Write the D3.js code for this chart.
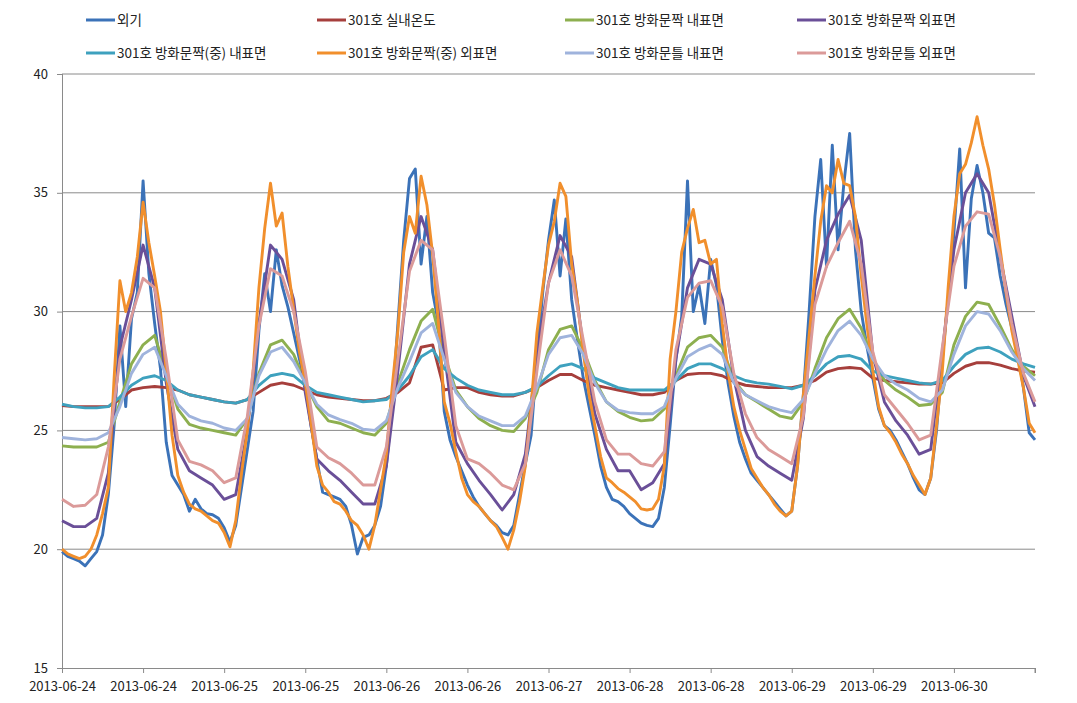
<!DOCTYPE html>
<html>
<head>
<meta charset="utf-8">
<script src="https://cdn.jsdelivr.net/npm/d3@7"></script>
<style>
    body { margin: 0; background: #fff; }
    text { font-family: "Noto Sans CJK KR", "Noto Sans", sans-serif; fill: #222; }
</style>
</head>
<body>
<div id="vis1"></div>
<script>
// series names (legend order = draw order)
var seriesNames = ["외기", "301호 실내온도", "301호 방화문짝 내표면", "301호 방화문짝 외표면",
    "301호 방화문짝(중) 내표면", "301호 방화문짝(중) 외표면", "301호 방화문틀 내표면", "301호 방화문틀 외표면"];

// x axis tick labels, one every 14 hours from 2013-06-24 00:00
var tickLabels = ["2013-06-24", "2013-06-24", "2013-06-25", "2013-06-25", "2013-06-26", "2013-06-26",
    "2013-06-27", "2013-06-28", "2013-06-28", "2013-06-29", "2013-06-29", "2013-06-30"];
var yTicks = [15, 20, 25, 30, 35, 40];

// hourly readings (hour 0..168)
var outdoor = [
    19.9, 19.7, 19.6, 19.5, 19.3, 19.6, 19.9, 20.6, 22.3, 25.2, 29.4, 26.0, 29.7, 30.8, 35.5, 31.6, 29.5, 27.6, 24.5, 23.1, 22.7, 22.3, 21.6, 22.1,
    21.7, 21.5, 21.45, 21.3, 20.9, 20.3, 21.0, 22.6, 24.2, 25.8, 29.2, 31.6, 30.0, 32.6, 31.1, 30.2, 29.1, 28.0, 26.9, 25.2, 23.8, 22.4, 22.3, 22.2,
    22.1, 21.8, 21.0, 19.8, 20.5, 20.6, 21.0, 21.8, 23.5, 26.0, 29.5, 33.0, 35.6, 36.0, 32.0, 34.0, 30.8, 29.5, 25.8, 24.6, 23.9, 23.3, 22.7, 22.2,
    21.8, 21.5, 21.2, 21.0, 20.7, 20.6, 21.0, 22.3, 23.6, 24.8, 28.0, 30.8, 33.0, 34.7, 31.5, 33.9, 30.5, 28.8, 27.2, 26.0, 24.8, 23.5, 22.6, 22.1,
    22.0, 21.8, 21.5, 21.3, 21.1, 21.0, 20.95, 21.3, 22.6, 25.2, 28.0, 29.8, 35.5, 30.0, 31.1, 29.5, 32.2, 31.1, 28.8, 27.0, 25.6, 24.5, 23.8, 23.2,
    22.9, 22.6, 22.3, 22.0, 21.7, 21.4, 21.6, 23.5, 26.5, 30.0, 34.0, 36.4, 31.9, 37.0, 32.6, 35.4, 37.5, 32.6, 30.0, 28.5, 27.2, 25.9, 25.2, 25.0,
    24.6, 24.1, 23.6, 23.0, 22.5, 22.3, 23.0, 25.0, 28.0, 30.5, 33.3, 36.85, 31.0, 34.75, 36.15, 35.0, 33.3, 33.1, 31.5, 30.3, 29.3, 28.3, 26.8, 24.9, 24.6
];
var doorMidOut = [
    20.0, 19.8, 19.7, 19.6, 19.7, 20.0, 20.6, 21.5, 22.6, 27.2, 31.3, 30.0, 30.8, 32.3, 34.6, 32.9, 31.5, 30.0, 27.5, 24.8, 23.1, 22.4, 21.9, 21.7,
    21.6, 21.4, 21.2, 21.1, 20.7, 20.1, 21.2, 23.2, 25.0, 27.5, 31.0, 33.5, 35.4, 33.6, 34.15, 31.9, 30.1, 28.3, 27.0, 25.3, 23.5, 22.7, 22.4, 22.0,
    21.9, 21.6, 21.2, 21.0, 20.6, 20.0, 21.0, 22.5, 24.0, 26.8, 29.2, 32.5, 34.0, 33.3, 35.7, 34.5, 32.4, 29.5, 26.2, 25.3, 24.1, 23.0, 22.3, 22.0,
    21.8, 21.5, 21.2, 20.95, 20.5, 20.0, 20.8, 22.0, 23.5, 26.0, 29.1, 31.0, 32.8, 33.8, 35.4, 34.85, 32.0, 30.4, 28.3, 26.5, 25.2, 23.9, 23.0, 22.8,
    22.55, 22.4, 22.2, 22.0, 21.7, 21.65, 21.7, 22.1, 23.5, 28.0, 30.0, 32.5, 33.5, 34.3, 32.9, 33.0, 32.0, 32.2, 29.5, 27.5, 26.0, 25.0, 24.2, 23.4,
    23.0, 22.6, 22.3, 21.9, 21.6, 21.4, 21.6, 23.5, 26.5, 29.0, 31.5, 33.8, 35.3, 35.0, 36.4, 35.4, 35.3, 34.0, 31.5, 29.4, 27.5, 26.0, 25.2, 24.9,
    24.5, 24.0, 23.6, 23.1, 22.7, 22.3, 23.0, 25.2, 27.5, 31.0, 34.0, 35.8, 36.2, 37.1, 38.2, 37.0, 36.0, 34.5, 32.6, 30.8, 29.2, 28.0, 26.8, 25.3, 24.9
];

// two-hourly readings (hour 0,2,..,168)
var indoor = [
    26.05, 26.0, 26.0, 26.0, 26.0, 26.3, 26.7, 26.8, 26.85, 26.8, 26.7, 26.5,
    26.4, 26.3, 26.2, 26.15, 26.3, 26.6, 26.9, 27.0, 26.9, 26.7, 26.5, 26.4,
    26.35, 26.3, 26.25, 26.25, 26.35, 26.6, 27.0, 28.5, 28.6, 26.7, 26.8, 26.8,
    26.6, 26.5, 26.45, 26.45, 26.6, 26.8, 27.1, 27.35, 27.35, 27.1, 26.9, 26.8,
    26.7, 26.6, 26.5, 26.5, 26.6, 27.1, 27.35, 27.4, 27.4, 27.3, 27.05, 26.9,
    26.85, 26.8, 26.8, 26.8, 26.9, 27.1, 27.45, 27.6, 27.65, 27.6, 27.2, 27.1,
    27.05, 27.0, 26.95, 26.95, 27.0, 27.4, 27.7, 27.85, 27.85, 27.75, 27.6, 27.5, 27.45
];
var doorIn = [
    24.35, 24.3, 24.3, 24.3, 24.5, 26.2, 27.8, 28.6, 29.0, 27.4, 25.9, 25.25,
    25.1, 25.0, 24.9, 24.8, 25.5, 27.4, 28.6, 28.8, 28.2, 27.0, 26.0, 25.4,
    25.3, 25.1, 24.9, 24.8, 25.3, 27.0, 28.4, 29.6, 30.1, 28.2, 26.7, 26.0,
    25.5, 25.2, 25.0, 24.95, 25.5, 26.6, 28.4, 29.25, 29.4, 28.4, 27.1, 26.2,
    25.8, 25.55, 25.4, 25.45, 25.9, 27.3, 28.5, 28.9, 29.0, 28.5, 27.1, 26.5,
    26.2, 25.9, 25.6, 25.5, 26.2, 27.6, 28.9, 29.7, 30.1, 29.3, 28.0, 27.1,
    26.7, 26.4, 26.05, 26.1, 26.6, 28.6, 29.8, 30.4, 30.3, 29.4, 28.4, 27.7, 27.3
];
var doorOut = [
    21.2, 20.95, 20.95, 21.3, 23.2, 28.5, 30.5, 32.8, 31.0, 27.0, 24.2, 23.3,
    23.0, 22.7, 22.1, 22.3, 25.0, 29.5, 32.8, 32.2, 30.5, 26.6, 23.8, 23.3,
    22.9, 22.4, 21.9, 21.9, 23.5, 27.5, 32.0, 34.0, 32.6, 28.3, 24.5, 23.6,
    22.9, 22.3, 21.65, 22.3, 24.0, 28.2, 31.2, 33.2, 32.3, 28.5, 25.7, 24.2,
    23.3, 23.3, 22.5, 22.8, 23.6, 28.0, 31.0, 32.2, 32.0, 30.5, 27.2, 25.0,
    23.9, 23.5, 23.2, 22.9, 25.5, 30.9, 33.0, 34.1, 34.9, 33.0, 28.2, 26.2,
    25.4, 24.8, 24.0, 24.2, 28.3, 32.6, 35.0, 35.8, 35.0, 32.3, 29.8, 27.3, 26.0
];
var doorMidIn = [
    26.1, 26.0, 25.95, 25.95, 26.0, 26.4, 26.9, 27.2, 27.3, 27.1, 26.7, 26.5,
    26.4, 26.3, 26.2, 26.15, 26.3, 26.9, 27.3, 27.4, 27.3, 26.9, 26.6, 26.5,
    26.4, 26.3, 26.2, 26.25, 26.3, 26.7, 27.3, 28.1, 28.4, 27.6, 27.2, 26.9,
    26.7, 26.6, 26.5, 26.5, 26.6, 26.85, 27.3, 27.7, 27.8, 27.6, 27.2, 27.0,
    26.8, 26.7, 26.7, 26.7, 26.7, 27.1, 27.6, 27.8, 27.8, 27.6, 27.3, 27.1,
    27.0, 26.95, 26.85, 26.75, 26.9, 27.3, 27.8, 28.1, 28.15, 28.0, 27.5, 27.3,
    27.2, 27.1, 27.0, 26.95, 27.1, 27.7, 28.2, 28.45, 28.5, 28.3, 28.0, 27.8, 27.65
];
var frameIn = [
    24.7, 24.65, 24.6, 24.65, 24.9, 26.0, 27.4, 28.2, 28.5, 27.3, 26.1, 25.6,
    25.4, 25.3, 25.1, 25.0, 25.5, 27.3, 28.3, 28.5, 27.9, 27.0, 26.1, 25.65,
    25.45, 25.3, 25.05, 25.0, 25.4, 26.8, 27.9, 29.1, 29.5, 28.0, 26.6, 26.0,
    25.6, 25.4, 25.2, 25.2, 25.6, 26.8, 28.2, 28.9, 29.0, 28.2, 27.0, 26.2,
    25.85, 25.75, 25.7, 25.7, 26.0, 27.2, 28.1, 28.4, 28.6, 28.2, 27.0, 26.5,
    26.25, 26.0, 25.85, 25.75, 26.3, 27.4, 28.4, 29.2, 29.6, 29.0, 28.0, 27.3,
    26.95, 26.7, 26.35, 26.2, 26.7, 28.2, 29.4, 30.0, 29.9, 29.2, 28.3, 27.6, 27.1
];
var frameOut = [
    22.1, 21.8, 21.85, 22.3, 24.3, 28.0, 29.8, 31.4, 31.0, 28.0, 24.6, 23.7,
    23.55, 23.3, 22.8, 23.0, 25.6, 29.4, 31.8, 31.5, 30.0, 27.5, 24.3, 23.85,
    23.6, 23.2, 22.7, 22.7, 24.3, 28.0, 31.7, 33.0, 32.6, 29.0, 25.2, 23.8,
    23.6, 23.2, 22.7, 22.5, 23.6, 27.5, 31.2, 32.6, 31.5, 28.8, 26.2, 24.6,
    24.0, 24.0, 23.6, 23.5, 24.1, 28.4, 30.6, 31.2, 31.3, 30.2, 27.4, 25.7,
    24.7, 24.2, 23.9, 23.6, 25.6, 30.3, 31.9, 32.9, 33.8, 32.0, 28.3, 26.5,
    25.9, 25.3, 24.6, 24.8, 28.5, 31.9, 33.6, 34.2, 34.1, 32.3, 29.5, 27.4, 26.2
];

var colors = ["#3b72b8", "#a63f3c", "#8daf4f", "#6a4f98", "#3ea1be", "#f18f2c", "#9fb3dc", "#db9a99"];
var allValues = [outdoor, indoor, doorIn, doorOut, doorMidIn, doorMidOut, frameIn, frameOut];
var steps = [1, 2, 2, 2, 2, 1, 2, 2];

// set the dimensions and margins of the graph
var margin = {top: 74, right: 42, bottom: 35, left: 62},
    width = 1077 - margin.left - margin.right,
    height = 703 - margin.top - margin.bottom;

var x = d3.scaleLinear().domain([0, 168]).range([0, width]);
var y = d3.scaleLinear().domain([15, 40]).range([height, 0]);

var svg = d3.select("#vis1")
    .append("svg")
    .attr("width", 1077)
    .attr("height", 703)
    .append("g")
    .attr("transform", "translate(" + margin.left + "," + margin.top + ")");

// horizontal grid lines
svg.append("g")
    .selectAll("line")
    .data(yTicks.slice(1))
    .enter().append("line")
    .attr("x1", 0)
    .attr("x2", width)
    .attr("y1", function(d) { return y(d); })
    .attr("y2", function(d) { return y(d); })
    .attr("stroke", "#8a8a8a")
    .attr("stroke-width", 1);

// y axis
svg.append("g")
    .attr("class", "axis y-axis")
    .call(d3.axisLeft(y).tickValues(yTicks).tickSize(5).tickPadding(9));

// x axis, a tick every 14 hours
var xTicks = d3.range(0, 169, 14);
svg.append("g")
    .attr("class", "axis x-axis")
    .attr("transform", "translate(0," + height + ")")
    .call(d3.axisBottom(x).tickValues(xTicks).tickSize(5).tickPadding(9)
        .tickFormat(function(d, i) { return tickLabels[i] || ""; }));

svg.selectAll(".axis path, .axis line").attr("stroke", "#8a8a8a");
svg.selectAll(".axis path").attr("d", function() {
    return d3.select(this.parentNode).classed("x-axis")
        ? "M0,0.5H" + width + "M" + width + ",0V5"
        : "M0.5,0V" + height;
});
svg.selectAll(".axis text")
    .style("font-size", "13px")
    .attr("fill", "#222");

// the series lines
allValues.forEach(function(vals, k) {
    var line = d3.line()
        .x(function(d, i) { return x(i * steps[k]); })
        .y(function(d) { return y(d); });
    svg.append("path")
        .datum(vals)
        .attr("fill", "none")
        .attr("stroke", colors[k])
        .attr("stroke-width", 2.9)
        .attr("stroke-linejoin", "round")
        .attr("class", "line")
        .attr("d", line);
});

// legend, two rows of four
var legX = [86, 317, 565, 797];
var legY = [20, 53];
var legend = d3.select("svg").append("g").attr("class", "legend");
seriesNames.forEach(function(name, k) {
    var lx = legX[k % 4], ly = legY[Math.floor(k / 4)];
    legend.append("line")
        .attr("x1", lx).attr("x2", lx + 29)
        .attr("y1", ly).attr("y2", ly)
        .attr("stroke", colors[k])
        .attr("stroke-width", 3);
    legend.append("text")
        .attr("x", lx + 31)
        .attr("y", ly)
        .attr("dy", "0.35em")
        .style("font-size", "13.5px")
        .text(name);
});
</script>
</body>
</html>
